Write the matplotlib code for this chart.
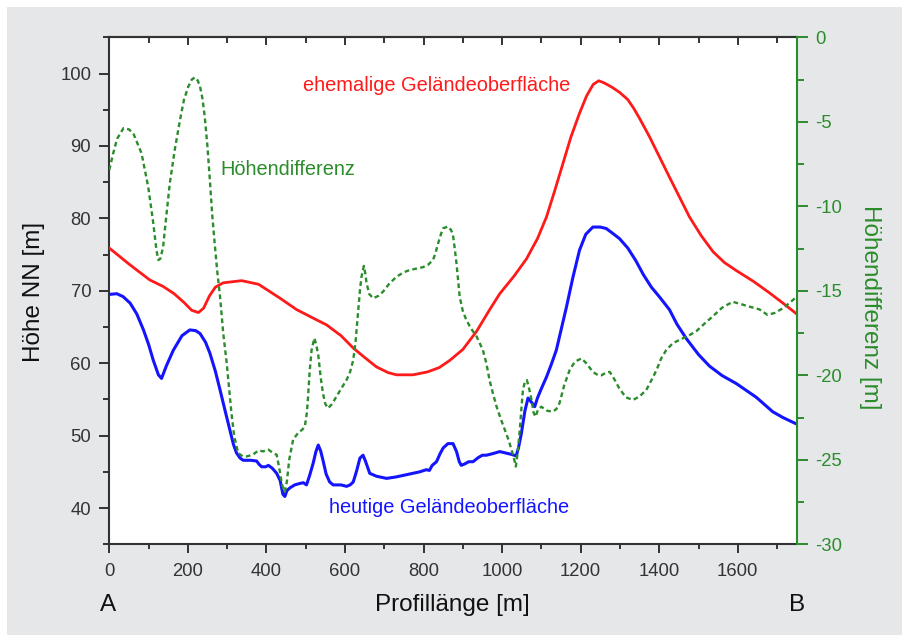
import matplotlib
matplotlib.use("Agg")
import matplotlib.pyplot as plt
from matplotlib.patches import Rectangle
from matplotlib.ticker import MultipleLocator

plt.rcParams['font.family'] = ['Liberation Sans', 'DejaVu Sans']
plt.rcParams['axes.unicode_minus'] = False

# ---------------- data ----------------
red_x = [0, 50, 103, 137, 165, 190, 210, 227, 240, 255, 270, 290, 337, 380, 434, 477, 520, 553, 590,
         621, 650, 680, 710, 731, 773, 810, 840, 867, 900, 935, 965, 994, 1030, 1062, 1090, 1113,
         1135, 1155, 1175, 1197, 1215, 1232, 1246, 1260, 1280, 1299, 1320, 1335, 1350, 1375, 1426,
         1477, 1507, 1537, 1566, 1596, 1640, 1681, 1715, 1750]
red_y = [75.9, 73.7, 71.5, 70.6, 69.6, 68.4, 67.3, 67.0, 67.6, 69.3, 70.5, 71.1, 71.4, 70.9, 69.0,
         67.4, 66.2, 65.3, 63.8, 62.1, 60.8, 59.5, 58.7, 58.4, 58.4, 58.8, 59.4, 60.4, 61.9, 64.4,
         67.1, 69.6, 72.0, 74.4, 77.2, 80.2, 84.0, 87.6, 91.2, 94.5, 96.9, 98.5, 99.0, 98.7, 98.1,
         97.4, 96.4, 95.2, 93.8, 91.3, 85.7, 80.2, 77.6, 75.4, 73.9, 72.8, 71.3, 69.7, 68.3, 66.8]

blue_x = [0, 19, 35, 53, 70, 87, 100, 112, 125, 133, 145, 163, 185, 205, 220, 231, 245, 256, 270,
          282, 295, 307, 316, 324, 333, 341, 360, 375, 382, 388, 398, 405, 415, 426, 435, 442, 447,
          452, 460, 472, 485, 494, 502, 510, 519, 526, 532, 538, 544, 552, 561, 570, 578, 590, 604,
          613, 621, 630, 638, 646, 652, 663, 680, 706, 730, 765, 790, 807, 815, 822, 833, 842, 850,
          862, 875, 884, 891, 896, 905, 915, 926, 940, 950, 960, 975, 994, 1010, 1025, 1036, 1042,
          1049, 1058, 1066, 1075, 1083, 1090, 1100, 1113, 1125, 1138, 1150, 1164, 1180, 1197, 1213,
          1231, 1250, 1265, 1280, 1299, 1320, 1340, 1360, 1380, 1400, 1426, 1445, 1469, 1500, 1528,
          1560, 1596, 1620, 1647, 1670, 1689, 1715, 1750]
blue_y = [69.5, 69.6, 69.2, 68.3, 66.8, 64.6, 62.6, 60.4, 58.4, 57.9, 59.6, 61.8, 63.8, 64.6, 64.5,
          64.1, 62.9, 61.4, 58.9, 56.3, 53.4, 50.8, 48.8, 47.6, 46.9, 46.6, 46.6, 46.5, 46.0, 45.7,
          45.7, 45.9, 45.5, 44.8, 43.8, 41.9, 41.6, 42.4, 42.8, 43.2, 43.4, 43.5, 43.2, 44.5, 46.2,
          47.8, 48.7, 47.9, 46.6, 44.7, 43.6, 43.2, 43.2, 43.2, 43.0, 43.2, 43.6, 45.2, 46.9, 47.3,
          46.5, 44.8, 44.4, 44.1, 44.3, 44.7, 45.0, 45.3, 45.2, 45.9, 46.4, 47.5, 48.3, 48.9, 48.9,
          47.8, 46.4, 45.9, 46.1, 46.4, 46.4, 47.0, 47.3, 47.3, 47.5, 47.8, 47.6, 47.4, 47.2, 48.4,
          50.3, 53.4, 55.2, 54.6, 54.0, 55.2, 56.5, 58.1, 59.8, 61.8, 64.6, 67.8, 71.8, 75.6, 77.8,
          78.8, 78.8, 78.6, 78.0, 77.2, 75.9, 74.2, 72.2, 70.5, 69.2, 67.4, 65.4, 63.4, 61.2, 59.6,
          58.3, 57.2, 56.3, 55.3, 54.2, 53.3, 52.5, 51.6]

diff_x = [0, 10, 20, 36, 50, 61, 82, 99, 112, 120, 125, 130, 137, 145, 154, 167, 180, 190, 201, 210,
          218, 225, 231, 237, 243, 250, 256, 262, 269, 275, 282, 290, 299, 305, 311, 318, 328, 340,
          350, 365, 380, 392, 405, 417, 426, 432, 440, 447, 452, 458, 468, 481, 492, 498, 503, 506,
          510, 515, 522, 527, 532, 538, 544, 550, 557, 567, 578, 590, 604, 613, 621, 627, 633, 638,
          642, 648, 652, 655, 662, 672, 685, 697, 712, 731, 750, 765, 799, 812, 824, 830, 837, 845,
          850, 862, 870, 875, 880, 884, 892, 900, 909, 920, 935, 951, 960, 968, 977, 986, 997, 1007,
          1016, 1024, 1030, 1035, 1040, 1045, 1050, 1053, 1058, 1063, 1068, 1075, 1080, 1085, 1092,
          1100, 1115, 1129, 1138, 1146, 1158, 1172, 1185, 1202, 1215, 1231, 1245, 1253, 1264, 1274,
          1285, 1299, 1315, 1333, 1350, 1367, 1380, 1393, 1405, 1418, 1435, 1452, 1475, 1494, 1515,
          1537, 1560, 1587, 1610, 1630, 1655, 1676, 1695, 1715, 1730, 1750]
diff_y = [-7.85, -6.86, -6.0, -5.38, -5.45, -5.68, -6.86, -8.84, -11.0, -12.6, -13.18, -13.1, -12.4,
          -10.6, -8.64, -6.6, -4.89, -3.7, -2.92, -2.5, -2.37, -2.55, -2.92, -3.6, -4.7, -6.5, -8.44,
          -10.5, -12.39, -13.9, -15.35, -17.5, -19.3, -20.8, -22.25, -23.6, -24.6, -24.8, -24.8,
          -24.7, -24.45, -24.5, -24.4, -24.6, -24.7, -25.4, -26.5, -26.9, -26.3, -25.0, -23.8, -23.4,
          -23.2, -23.0, -22.2, -21.27, -19.8, -18.5, -17.8, -18.2, -18.8, -20.1, -21.07, -21.7,
          -21.95, -21.7, -21.27, -20.8, -20.28, -19.8, -19.1, -18.0, -16.33, -15.0, -14.17, -13.53,
          -14.0, -14.56, -15.2, -15.44, -15.3, -15.05, -14.6, -14.17, -13.9, -13.77, -13.6, -13.45,
          -13.18, -12.8, -12.2, -11.6, -11.3, -11.2, -11.4, -11.7, -12.6, -13.4, -15.35, -16.2,
          -16.73, -17.2, -17.7, -18.5, -19.3, -20.28, -21.1, -21.86, -22.6, -23.24, -23.8, -24.4,
          -24.9, -25.4, -24.5, -23.24, -21.7, -20.87, -20.4, -20.28, -20.7, -21.46, -22.2, -22.45,
          -22.0, -21.86, -22.1, -22.15, -22.0, -21.66, -20.6, -19.69, -19.2, -19.0, -19.3, -19.8,
          -20.0, -20.0, -19.85, -19.8, -20.2, -20.8, -21.3, -21.46, -21.25, -20.87, -20.3, -19.7,
          -19.0, -18.5, -18.1, -17.9, -17.65, -17.4, -16.95, -16.5, -16.0, -15.65, -15.8, -15.94,
          -16.1, -16.43, -16.3, -16.03, -15.75, -15.35]

x_ticks = [0, 200, 400, 600, 800, 1000, 1200, 1400, 1600]
left_ticks = [40, 50, 60, 70, 80, 90, 100]
right_ticks = [0, -5, -10, -15, -20, -25, -30]

label_red = "ehemalige Geländeoberfläche"
label_blue = "heutige Geländeoberfläche"
label_green = "Höhendifferenz"

# ---------------- style ----------------
RED = '#ff1a1a'
BLUE = '#1414ff'
GREEN = '#2b8c2b'
DARK = '#333333'
BG = '#e6e7e9'

W, H = 903, 635
fig = plt.figure(figsize=(W / 100, H / 100), dpi=100)
fig.patch.set_facecolor('white')
fig.add_artist(Rectangle((7 / W, 0), 1, 1 - 7 / H, transform=fig.transFigure,
                         facecolor=BG, edgecolor='none', zorder=-5))

L, R, T, B = 109.3, 796.7, 37.3, 544.3
ax = fig.add_axes([L / W, 1 - B / H, (R - L) / W, (B - T) / H])
ax.set_facecolor('white')

ax.plot(red_x, red_y, color=RED, lw=2.0, solid_capstyle='round', solid_joinstyle='round', zorder=3)
ax.plot(blue_x, blue_y, color=BLUE, lw=2.2, solid_capstyle='round', solid_joinstyle='round', zorder=3)

ax.set_xlim(0, 1750)
ax.set_ylim(35, 105)
ax.set_xticks(x_ticks)
ax.xaxis.set_minor_locator(MultipleLocator(100))
ax.set_yticks(left_ticks)
ax.yaxis.set_minor_locator(MultipleLocator(5))
ax.tick_params(axis='both', which='major', labelsize=13.3, colors=DARK, width=1.4)
ax.tick_params(axis='x', which='major', direction='out', length=6.5, pad=7)
ax.tick_params(axis='x', which='minor', direction='out', length=3.6, width=1.4, colors=DARK)
ax.tick_params(axis='y', which='major', direction='out', length=7, pad=6)
ax.tick_params(axis='y', which='minor', direction='out', length=4.3, width=1.4, colors=DARK)
for s in ['left', 'bottom', 'top']:
    ax.spines[s].set_color(DARK)
    ax.spines[s].set_linewidth(1.5)
ax.spines['right'].set_visible(False)

# top ticks pointing inward
sec = ax.secondary_xaxis('top')
sec.set_xticks(x_ticks)
sec.xaxis.set_minor_locator(MultipleLocator(100))
sec.tick_params(axis='x', which='major', direction='in', length=6, width=1.4, colors=DARK,
                labeltop=False)
sec.tick_params(axis='x', which='minor', direction='in', length=4, width=1.4, colors=DARK)
sec.spines['top'].set_color(DARK)
sec.spines['top'].set_linewidth(1.5)

ax2 = ax.twinx()
ax2.plot(diff_x, diff_y, color=GREEN, lw=1.7, linestyle=(0, (2.0, 1.4)), zorder=3)
ax2.set_ylim(-30, 0)
ax2.set_yticks(right_ticks)
ax2.yaxis.set_minor_locator(MultipleLocator(2.5))
ax2.tick_params(axis='y', which='major', direction='out', length=8, width=1.4, colors=GREEN,
                labelsize=13.3, pad=5)
ax2.tick_params(axis='y', which='minor', direction='out', length=5, width=1.4, colors=GREEN)
for s in ['left', 'bottom', 'top']:
    ax2.spines[s].set_visible(False)
ax2.spines['right'].set_color(GREEN)
ax2.spines['right'].set_linewidth(1.5)

# in-plot labels
ax.text(493.5, 98.4, label_red, color=RED, fontsize=14.4, ha='left', va='center')
ax.text(281.6, 86.7, label_green, color=GREEN, fontsize=14.4, ha='left', va='center')
ax.text(559.7, 40.1, label_blue, color=BLUE, fontsize=14.4, ha='left', va='center')

# axis titles
fig.text(34 / W, 1 - 292 / H, "Höhe NN [m]", rotation=90, ha='center', va='center',
         fontsize=17.5, color='#111111')
fig.text(452.5 / W, 1 - 605 / H, "Profillänge [m]", ha='center', va='center',
         fontsize=17.5, color='#111111')
fig.text(108 / W, 1 - 605 / H, "A", ha='center', va='center', fontsize=17.5, color='#111111')
fig.text(797 / W, 1 - 605 / H, "B", ha='center', va='center', fontsize=17.5, color='#111111')
fig.text(870 / W, 1 - 307 / H, "Höhendifferenz [m]", rotation=-90, ha='center', va='center',
         fontsize=17.5, color=GREEN)

fig.savefig('out.png', dpi=100, facecolor=fig.get_facecolor())
